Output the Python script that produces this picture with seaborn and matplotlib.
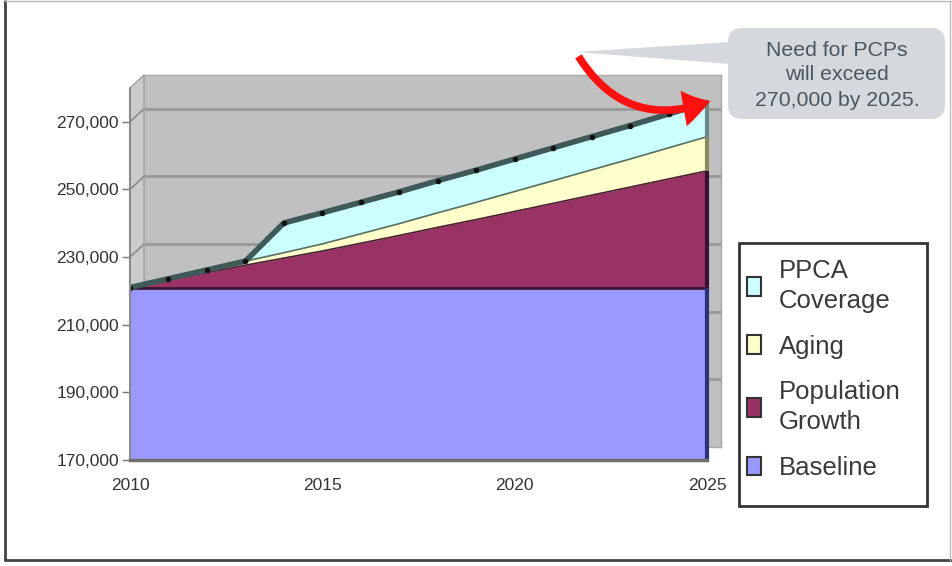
import numpy as np
import pandas as pd
import seaborn as sns
import matplotlib.pyplot as plt
from matplotlib.patches import Patch, Rectangle, Polygon, FancyBboxPatch, FancyArrowPatch, ConnectionPatch
from matplotlib.lines import Line2D
from matplotlib.transforms import Affine2D

# ---- data ----
years = [2010, 2011, 2012, 2013, 2014, 2015, 2016, 2017,
         2018, 2019, 2020, 2021, 2022, 2023, 2024, 2025]
baseline = [221000] * 16
pop_growth = [0, 2200, 4400, 6600, 8700, 10800, 13100, 15400,
              17800, 20100, 22500, 24900, 27300, 29700, 32100, 34500]
aging = [0, 400, 800, 1200, 1600, 2100, 2800, 3500,
         4300, 5100, 5900, 6700, 7500, 8300, 9200, 10100]
ppca = [0, 0, 0, 0, 8800, 9200, 9300, 9400,
        9500, 9500, 9600, 9700, 9800, 9900, 10000, 10100]

legend_labels = ["PPCA\nCoverage", "Aging", "Population\nGrowth", "Baseline"]
y_ticks = [170000, 190000, 210000, 230000, 250000, 270000]
x_ticks = [2010, 2015, 2020, 2025]
callout = "Need for PCPs\nwill exceed\n270,000 by 2025."

colors = {"Baseline": "#9999ff", "Population Growth": "#993366",
          "Aging": "#ffffcc", "PPCA Coverage": "#ccffff"}

df = pd.DataFrame({"year": years, "baseline": baseline, "pop": pop_growth,
                   "aging": aging, "ppca": ppca})
df["c1"] = df["baseline"]
df["c2"] = df["c1"] + df["pop"]
df["c3"] = df["c2"] + df["aging"]
df["total"] = df["c3"] + df["ppca"]

sns.set_theme(style="white")
plt.rcParams["font.family"] = ["Liberation Sans", "DejaVu Sans"]

W, H = 952, 566
fig = plt.figure(figsize=(W / 100, H / 100), dpi=100, facecolor="white")
# pixel coordinates, y down (image style)
px = Affine2D().scale(1, -1).translate(0, H).scale(1 / 100) + fig.dpi_scale_trans

def fx(x):
    return x / W

def fy(y):
    return 1 - y / H

# front face of the 3D box and depth offset of the back wall
L, R, T, B = 130, 707, 88, 460
DX, DY = 14, 13
ylim = (170000, 280000)

back = fig.add_axes([fx(L + DX), fy(B - DY), (R - L) / W, (B - T) / H])
back.set_facecolor("#c0c0c0")
back.set_xlim(years[0], years[-1])
back.set_ylim(*ylim)
for v in y_ticks[1:]:
    back.axhline(v, color="#999999", lw=2)
back.set_xticks([])
back.set_yticks([])
for s in back.spines.values():
    s.set_color("#a8a8a8")
    s.set_linewidth(1)

# left side wall
fig.add_artist(Polygon([(L, B), (L, T), (L + DX, T - DY), (L + DX, B - DY)],
                       closed=True, transform=px, facecolor="#cbcbcb",
                       edgecolor="#a0a0a0", lw=1, zorder=-1))

front = fig.add_axes([fx(L), fy(B), (R - L) / W, (B - T) / H])
front.patch.set_alpha(0)
front.set_xlim(years[0], years[-1])
front.set_ylim(*ylim)

front.stackplot(df["year"], df["baseline"], df["pop"], df["aging"], df["ppca"],
                colors=[colors["Baseline"], colors["Population Growth"],
                        colors["Aging"], colors["PPCA Coverage"]],
                linewidth=0)
front.plot(df["year"], df["c1"], color="#3a1535", lw=2)
front.plot(df["year"], df["c2"], color="#4a2030", lw=1.2)
front.plot(df["year"], df["c3"], color="#5a7060", lw=1.2)
sns.lineplot(data=df, x="year", y="total", ax=front, color="#3f5858", lw=4,
             marker="o", markersize=4, markerfacecolor="#111111",
             markeredgewidth=0)

# dark side faces at the right end
last = df.iloc[-1]
front.vlines([years[-1]] * 4, [ylim[0], last["c1"], last["c2"], last["c3"]],
             [last["c1"], last["c2"], last["c3"], last["total"]],
             colors=["#303078", "#3a1030", "#8a8a60", "#6a8a8a"], lw=3,
             clip_on=False)

front.set_yticks(y_ticks)
front.set_yticklabels([f"{v:,}" for v in y_ticks])
front.set_xticks(x_ticks)
front.set_xticklabels([str(x) for x in x_ticks])
front.set_xlabel("")
front.set_ylabel("")
front.tick_params(axis="y", left=True, length=6, width=1, color="#777777",
                  pad=2, labelcolor="#333333", labelsize=12.5)
front.tick_params(axis="x", bottom=False, length=0, pad=13, labelcolor="#333333",
                  labelsize=12.5)
for side in ["top", "right"]:
    front.spines[side].set_visible(False)
front.spines["left"].set_color("#8a8a8a")
front.spines["left"].set_linewidth(1.5)
front.spines["bottom"].set_color("#6f6f6f")
front.spines["bottom"].set_linewidth(2.5)

# diagonal tick connectors across the left wall
for v in y_ticks:
    fig.add_artist(ConnectionPatch(xyA=(years[0], v), coordsA=front.transData,
                                   xyB=(years[0], v), coordsB=back.transData,
                                   color="#8a8a8a", lw=1.2, zorder=-0.5))

# legend
handles = [Patch(facecolor=colors[k], edgecolor="#333333", lw=1.5)
           for k in ["PPCA Coverage", "Aging", "Population Growth", "Baseline"]]
fig.add_artist(Rectangle((739, 243), 188, 263, transform=px, fill=False,
                         edgecolor="#333333", lw=2))
leg = fig.legend(handles, legend_labels, loc="upper left",
                 bbox_to_anchor=(fx(747), fy(259)), frameon=False,
                 fontsize=18.5, handlelength=0.55, handleheight=0.75,
                 handletextpad=0.7, labelspacing=0.85, borderpad=0,
                 borderaxespad=0)
for t in leg.get_texts():
    t.set_color("#3a3a3a")
    t.set_linespacing(1.3)

# callout
box_color = "#d5d9dd"
fig.add_artist(Polygon([(730, 42), (576, 52), (730, 64)], closed=True,
                       transform=px, facecolor=box_color, edgecolor="none"))
fig.add_artist(FancyBboxPatch((728, 28), 217, 91, transform=px,
                              boxstyle="round,pad=0,rounding_size=14",
                              facecolor=box_color, edgecolor="none"))
fig.text(837, 75, callout, transform=px, ha="center", va="center",
         fontsize=15.3, color="#4a5661", linespacing=1.4)

fig.add_artist(FancyArrowPatch(posA=(577, 54), posB=(713, 100), transform=px,
                               arrowstyle="simple,head_length=20,head_width=26,tail_width=5.5",
                               connectionstyle="arc3,rad=0.42",
                               color="#ff1010", lw=0))

# outer frame
fig.add_artist(Line2D([5, 5], [1, 560], transform=px, color="#444444", lw=2))
fig.add_artist(Line2D([5, 951], [560, 560], transform=px, color="#444444", lw=2))
fig.add_artist(Line2D([5, 951], [1, 1], transform=px, color="#bbbbbb", lw=1))
fig.add_artist(Line2D([950, 950], [1, 560], transform=px, color="#bbbbbb", lw=1))

fig.savefig("out.png", dpi=100, facecolor="white")
